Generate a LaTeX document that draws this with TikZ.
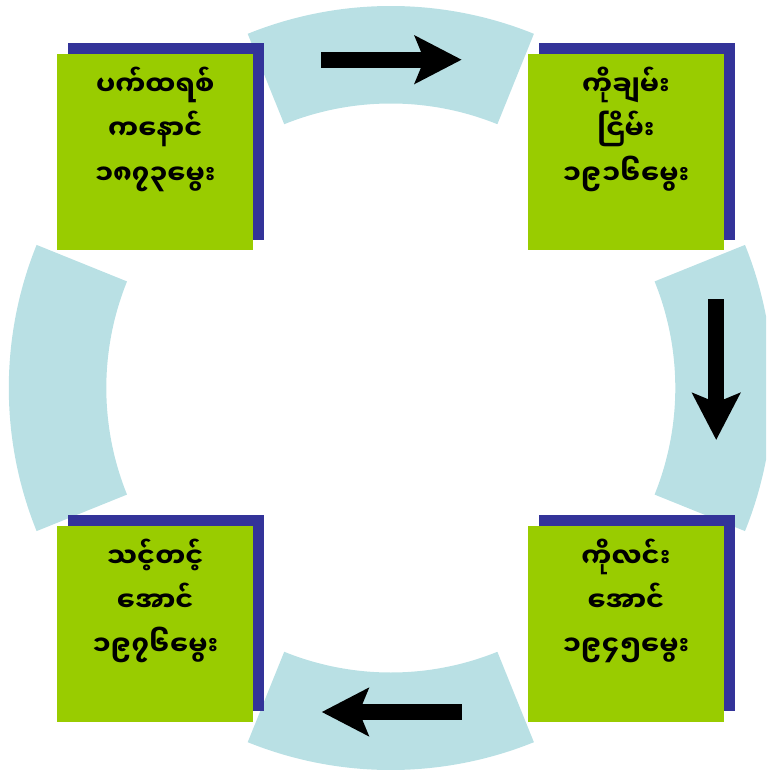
\documentclass[tikz,border=0pt]{standalone}
\usepackage{fontspec}
\newfontfamily\myfont[Script=Myanmar]{Noto Sans Myanmar UI}
\usetikzlibrary{arrows.meta}
\definecolor{ringblue}{RGB}{185,224,228}
\definecolor{boxgreen}{RGB}{153,204,0}
\definecolor{shadowblue}{RGB}{51,51,153}
\begin{document}
\begin{tikzpicture}[x=1pt,y=-1pt,
  ring/.style={fill=ringblue,draw=none},
  shadowbox/.style={fill=shadowblue,draw=none,minimum width=196pt,minimum height=196pt,inner sep=0pt,outer sep=0pt},
  greenbox/.style={fill=boxgreen,draw=none,minimum width=196pt,minimum height=196pt,inner sep=0pt,outer sep=0pt},
  lbl/.style={font=\myfont\bfseries\fontsize{27}{30}\selectfont,inner sep=0pt,anchor=base},
  blockarrow/.style={line width=16pt,-{Stealth[length=46.7pt,width=47.4pt,inset=9.3pt]}}]
\useasboundingbox (0,0) rectangle (766,770);
\clip (0,0) rectangle (766,770);
% ring segments
\foreach \a in {0,90,180,270}{
  \fill[ring] ({390.8+382*cos(\a-22)},{388+382*sin(\a-22)})
    arc[start angle=\a-22,end angle=\a+22,radius=382]
    -- ({390.8+284.5*cos(\a+22)},{388+284.5*sin(\a+22)})
    arc[start angle=\a+22,end angle=\a-22,radius=284.5] -- cycle;
}
% arrows
\coordinate (ta) at (321,59.7);   \coordinate (tb) at (461.7,59.7);
\coordinate (ra) at (716.2,299);  \coordinate (rb) at (716.2,440);
\coordinate (ba) at (461.7,712);  \coordinate (bb) at (321.7,712);
\draw[blockarrow] (ta) -- (tb);
\draw[blockarrow] (ra) -- (rb);
\draw[blockarrow] (ba) -- (bb);
% boxes
\node[shadowbox] (s1) at (166,141.5) {};
\node[greenbox]  (g1) at (155.3,152) {};
\node[shadowbox] (s2) at (636.7,141.5) {};
\node[greenbox]  (g2) at (626,152) {};
\node[shadowbox] (s3) at (166,613) {};
\node[greenbox]  (g3) at (155.3,623.5) {};
\node[shadowbox] (s4) at (636.7,613) {};
\node[greenbox]  (g4) at (626,623.5) {};
% labels
\node[lbl] (t1a) at ([yshift=-41.5pt]g1.north) {ပက်ထရစ်};
\node[lbl] (t1b) at ([yshift=-85.5pt]g1.north) {ကနောင်};
\node[lbl] (t1c) at ([yshift=-130pt]g1.north) {၁၈၇၃မွေး};
\node[lbl] (t2a) at ([yshift=-41.5pt]g2.north) {ကိုချမ်း};
\node[lbl] (t2b) at ([yshift=-85.5pt]g2.north) {ငြိမ်း};
\node[lbl] (t2c) at ([yshift=-130pt]g2.north) {၁၉၁၆မွေး};
\node[lbl] (t3a) at ([yshift=-41.5pt]g3.north) {သင့်တင့်};
\node[lbl] (t3b) at ([yshift=-85.5pt]g3.north) {အောင်};
\node[lbl] (t3c) at ([yshift=-130pt]g3.north) {၁၉၇၆မွေး};
\node[lbl] (t4a) at ([yshift=-41.5pt]g4.north) {ကိုလင်း};
\node[lbl] (t4b) at ([yshift=-85.5pt]g4.north) {အောင်};
\node[lbl] (t4c) at ([yshift=-130pt]g4.north) {၁၉၄၅မွေး};
\end{tikzpicture}
\end{document}
